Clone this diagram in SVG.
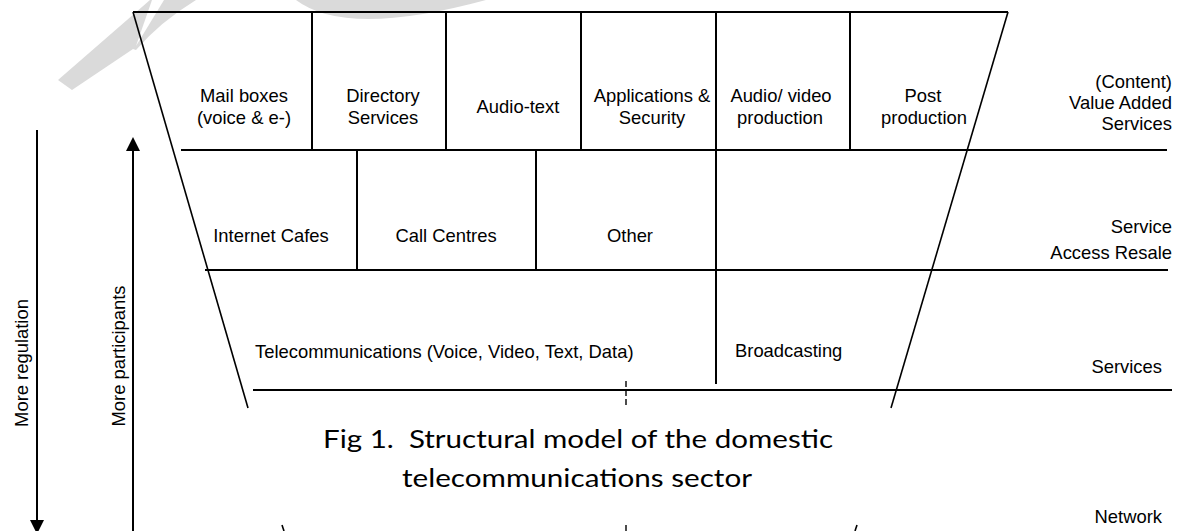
<svg xmlns="http://www.w3.org/2000/svg" width="1178" height="531" viewBox="0 0 1178 531">
  <defs>
    <style>
      .lbl { font-family: "Liberation Sans", Arial, sans-serif; font-size: 18.4px; fill: #000; }
      .mid { text-anchor: middle; }
      .end { text-anchor: end; }
      .cap { font-family: Lato, "Open Sans", sans-serif; font-size: 25.5px; fill: #000; }
      .ln { stroke: #000; stroke-width: 2; fill: none; }
      .sl { stroke: #000; stroke-width: 1.6; fill: none; }
      .dash { stroke: #000; stroke-width: 1.4; stroke-dasharray: 6 3; fill: none; }
      .wm { fill: #dadada; stroke: none; }
    </style>
  </defs>
  <rect width="1178" height="531" fill="#fff"/>

  <g id="watermark">
    <path class="wm" d="M58 80 L150 0 L196 0 Q160 22 136 50 L133 49 L72 90 Z"/>
    <path d="M136 46 L164 0 L152 0 Z" fill="#fff"/>
    <path class="wm" d="M296 0 Q346 38 486 0 Z"/>
  </g>

  <g id="frame">
    <line class="ln" x1="133" y1="12" x2="1008" y2="12"/>
    <line class="ln" x1="181" y1="150" x2="1167" y2="150"/>
    <line class="ln" x1="205" y1="270" x2="1168" y2="270"/>
    <line class="ln" x1="253" y1="390" x2="1172" y2="390"/>
    <line class="sl" x1="133" y1="12" x2="248" y2="408"/>
    <line class="sl" x1="282" y1="525" x2="284" y2="531"/>
    <line class="sl" x1="1008" y1="12" x2="891" y2="408"/>
    <line class="sl" x1="857" y1="525" x2="855" y2="531"/>
    <line class="ln" x1="312" y1="12" x2="312" y2="150"/>
    <line class="ln" x1="446" y1="12" x2="446" y2="150"/>
    <line class="ln" x1="581" y1="12" x2="581" y2="150"/>
    <line class="ln" x1="716" y1="12" x2="716" y2="384"/>
    <line class="ln" x1="850" y1="12" x2="850" y2="150"/>
    <line class="ln" x1="357" y1="150" x2="357" y2="270"/>
    <line class="ln" x1="536" y1="150" x2="536" y2="270"/>
    <line class="dash" x1="626" y1="381" x2="626" y2="408"/>
    <line class="dash" x1="626" y1="525" x2="626" y2="531"/>
  </g>

  <g id="mailboxes"><text class="lbl mid" x="244" y="102">Mail boxes</text><text class="lbl mid" x="244" y="124">(voice &amp; e-)</text></g>
  <g id="directory"><text class="lbl mid" x="383" y="102">Directory</text><text class="lbl mid" x="383" y="124">Services</text></g>
  <g id="audiotext"><text class="lbl mid" x="518" y="113">Audio-text</text></g>
  <g id="applications"><text class="lbl mid" x="652" y="102">Applications &amp;</text><text class="lbl mid" x="652" y="124">Security</text></g>
  <g id="audiovideo"><text class="lbl mid" x="781" y="102">Audio/ video</text><text class="lbl mid" x="780" y="124">production</text></g>
  <g id="postproduction"><text class="lbl mid" x="923" y="102">Post</text><text class="lbl mid" x="924" y="124">production</text></g>

  <g id="internetcafes"><text class="lbl mid" x="271" y="242">Internet Cafes</text></g>
  <g id="callcentres"><text class="lbl mid" x="446" y="242">Call Centres</text></g>
  <g id="other"><text class="lbl mid" x="630" y="242">Other</text></g>

  <g id="telecom"><text class="lbl" x="255" y="358">Telecommunications (Voice, Video, Text, Data)</text></g>
  <g id="broadcasting"><text class="lbl" x="735" y="357">Broadcasting</text></g>

  <g id="layer-vas"><text class="lbl end" x="1172" y="88">(Content)</text><text class="lbl end" x="1172" y="109">Value Added</text><text class="lbl end" x="1172" y="130">Services</text></g>
  <g id="layer-sar"><text class="lbl end" x="1172" y="233">Service</text><text class="lbl end" x="1172" y="259">Access Resale</text></g>
  <g id="layer-services"><text class="lbl end" x="1162" y="373">Services</text></g>
  <g id="layer-network"><text class="lbl end" x="1162" y="523">Network</text></g>

  <g id="connectors">
    <line class="ln" x1="37" y1="130" x2="37" y2="522"/>
    <polygon points="30,520 44,520 37,534" fill="#000"/>
    <line class="ln" x1="133" y1="149" x2="133" y2="531"/>
    <polygon points="126,151 140,151 133,137" fill="#000"/>
  </g>

  <g id="axis-labels">
    <text class="lbl mid" transform="translate(28 363) rotate(-90)">More regulation</text>
    <text class="lbl mid" transform="translate(125 356) rotate(-90)">More participants</text>
  </g>

  <g id="caption">
    <text class="cap" x="323" y="448" textLength="510" lengthAdjust="spacingAndGlyphs" xml:space="preserve">Fig 1.  Structural model of the domestic</text>
    <text class="cap" x="402" y="487" textLength="350" lengthAdjust="spacingAndGlyphs">telecommunications sector</text>
  </g>
</svg>
